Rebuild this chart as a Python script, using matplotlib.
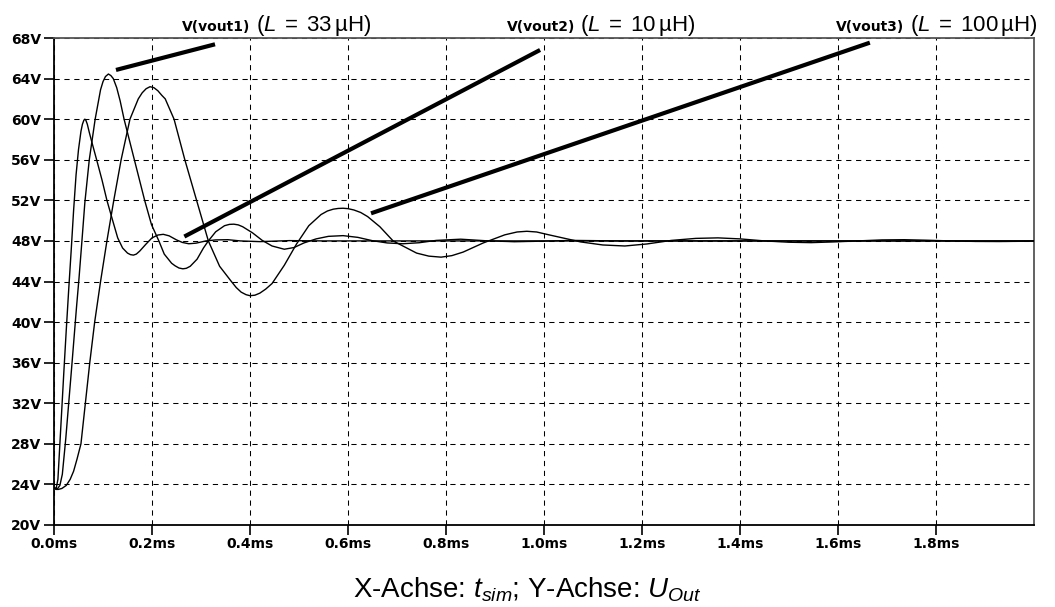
import numpy as np
import matplotlib
matplotlib.use('Agg')
import matplotlib.pyplot as plt

plt.rcParams['font.family'] = ['Liberation Sans', 'DejaVu Sans']
plt.rcParams['mathtext.fontset'] = 'custom'
plt.rcParams['mathtext.rm'] = 'Liberation Sans'
plt.rcParams['mathtext.it'] = 'Liberation Sans:italic'

# Simulated output voltage (t in ms, V in volts)
# vout2, L = 10 uH (fastest)
t_vout2 = [0.000, 0.004, 0.008, 0.012, 0.016, 0.020, 0.025, 0.030, 0.035, 0.040,
           0.045, 0.050, 0.055, 0.058, 0.061, 0.063, 0.065, 0.068, 0.072, 0.078,
           0.087, 0.098, 0.108, 0.118, 0.130, 0.140, 0.150, 0.156, 0.162, 0.168,
           0.175, 0.188, 0.200, 0.212, 0.223, 0.235, 0.250, 0.262, 0.275, 0.290,
           0.310, 0.330, 0.355, 0.380, 0.420, 0.480, 0.550, 2.000]
v_vout2 = [23.7, 23.5, 24.5, 28.0, 31.5, 35.0, 39.2, 43.2, 47.0, 51.0,
           54.5, 57.0, 58.8, 59.5, 59.9, 60.0, 59.9, 59.5, 58.7, 57.6,
           56.0, 54.0, 52.0, 50.3, 48.3, 47.3, 46.8, 46.65, 46.6, 46.7,
           47.0, 47.7, 48.3, 48.58, 48.65, 48.5, 48.1, 47.85, 47.72, 47.78,
           48.0, 48.1, 48.12, 48.0, 47.93, 48.03, 48.0, 48.0]

# vout1, L = 33 uH
t_vout1 = [0.000, 0.006, 0.012, 0.017, 0.020, 0.024, 0.030, 0.036, 0.041, 0.046,
           0.051, 0.057, 0.063, 0.072, 0.084, 0.095, 0.100, 0.105, 0.111, 0.116,
           0.121, 0.128, 0.135, 0.143, 0.164, 0.185, 0.199, 0.214, 0.225, 0.240,
           0.247, 0.255, 0.263, 0.270, 0.278, 0.292, 0.305, 0.315, 0.330, 0.348,
           0.358, 0.367, 0.376, 0.385, 0.405, 0.425, 0.445, 0.470, 0.490, 0.510,
           0.535, 0.560, 0.590, 0.620, 0.650, 0.680, 0.712, 0.745, 0.780, 0.830,
           0.880, 0.940, 1.000, 1.060, 1.150, 2.000]
v_vout1 = [23.7, 23.5, 23.9, 25.0, 26.5, 28.5, 32.0, 35.5, 38.5, 41.5,
           44.3, 48.0, 51.8, 56.0, 60.0, 62.9, 63.7, 64.2, 64.45, 64.3,
           64.0, 63.1, 61.8, 60.0, 56.0, 52.0, 49.6, 48.0, 46.7, 45.8,
           45.55, 45.33, 45.25, 45.3, 45.5, 46.2, 47.3, 48.0, 48.9, 49.5,
           49.63, 49.65, 49.58, 49.4, 48.8, 48.05, 47.5, 47.18, 47.35, 47.8,
           48.2, 48.45, 48.52, 48.35, 48.02, 47.8, 47.72, 47.82, 48.05, 48.17,
           48.02, 47.92, 47.98, 48.05, 48.0, 48.0]

# vout3, L = 100 uH (slowest)
t_vout3 = [0.000, 0.008, 0.016, 0.025, 0.033, 0.040, 0.047, 0.055, 0.064, 0.073,
           0.083, 0.095, 0.108, 0.122, 0.137, 0.155, 0.172, 0.180, 0.188, 0.196,
           0.204, 0.212, 0.220, 0.227, 0.245, 0.267, 0.291, 0.315, 0.338, 0.362,
           0.372, 0.382, 0.392, 0.400, 0.410, 0.420, 0.432, 0.445, 0.470, 0.495,
           0.520, 0.545, 0.558, 0.570, 0.580, 0.590, 0.600, 0.612, 0.626, 0.640,
           0.665, 0.692, 0.740, 0.765, 0.790, 0.812, 0.835, 0.876, 0.920, 0.945,
           0.965, 0.985, 1.010, 1.075, 1.120, 1.165, 1.210, 1.260, 1.310, 1.355,
           1.400, 1.450, 1.500, 1.545, 1.590, 1.640, 1.690, 1.735, 1.780, 1.830,
           1.880, 1.930, 2.000]
v_vout3 = [23.7, 23.5, 23.6, 23.9, 24.5, 25.3, 26.5, 28.0, 32.0, 36.0,
           40.0, 44.0, 48.0, 52.0, 56.0, 60.0, 62.0, 62.6, 63.0, 63.2,
           63.1, 62.8, 62.35, 62.0, 60.0, 56.0, 52.0, 48.0, 45.5, 44.0,
           43.4, 42.95, 42.7, 42.6, 42.65, 42.85, 43.25, 43.8, 45.6, 47.7,
           49.5, 50.6, 50.95, 51.13, 51.2, 51.22, 51.18, 51.05, 50.8, 50.4,
           49.4, 48.0, 46.8, 46.5, 46.4, 46.55, 46.9, 47.8, 48.6, 48.88,
           48.95, 48.88, 48.6, 47.9, 47.6, 47.5, 47.7, 48.05, 48.25, 48.3,
           48.2, 48.0, 47.87, 47.83, 47.9, 48.0, 48.1, 48.12, 48.07, 48.0,
           47.95, 47.94, 47.98]

# trace labels and the pointer lines that connect them to their curves
trace_names = ['V(vout1)', 'V(vout2)', 'V(vout3)']
inductance_uH = ['33', '10', '100']
label_at_ms = [0.400, 1.063, 1.735]
pointer_t = [(0.1265, 0.3286), (0.266, 0.992), (0.647, 1.665)]
pointer_v = [(64.85, 67.38), (48.43, 66.82), (50.72, 67.54)]

x_ticks = [0.0, 0.2, 0.4, 0.6, 0.8, 1.0, 1.2, 1.4, 1.6, 1.8]
y_ticks = [20, 24, 28, 32, 36, 40, 44, 48, 52, 56, 60, 64, 68]

fig = plt.figure(figsize=(10.55, 6.07), dpi=100)
ax = fig.add_axes([54 / 1055, 1 - 525 / 607, 980 / 1055, 487 / 607])

for t, v in [(t_vout3, v_vout3), (t_vout1, v_vout1), (t_vout2, v_vout2)]:
    ax.plot(t, v, color='black', lw=1.0, zorder=3)

for (ta, tb), (va, vb) in zip(pointer_t, pointer_v):
    ax.plot([ta, tb], [va, vb], color='black', lw=3.0,
            solid_capstyle='butt', zorder=4, clip_on=False)

ax.set_xlim(0, 2.0)
ax.set_ylim(20, 68)
ax.set_xticks(x_ticks)
ax.set_xticklabels([f'{t:.1f}ms' for t in x_ticks])
ax.set_yticks(y_ticks)
ax.set_yticklabels([f'{v}V' for v in y_ticks])
for lab in ax.get_xticklabels() + ax.get_yticklabels():
    lab.set_family('DejaVu Sans')
    lab.set_fontweight('bold')
    lab.set_fontsize(10)
ax.tick_params(direction='out', length=7, width=1.2, color='black', pad=2)

ax.grid(True, color='black', lw=0.75, linestyle=(0, (5, 4.5)), zorder=1)
ax.set_axisbelow(True)
for side in ['left', 'bottom']:
    ax.spines[side].set_linewidth(1.3)
    ax.spines[side].set_color('black')
for side in ['top', 'right']:
    ax.spines[side].set_linewidth(1.3)
    ax.spines[side].set_color('#555555')

for name, ind, tx in zip(trace_names, inductance_uH, label_at_ms):
    ax.annotate(name, xy=(tx, 1), xycoords=('data', 'axes fraction'),
                xytext=(0, 5), textcoords='offset points',
                ha='right', va='baseline', family='DejaVu Sans',
                fontweight='bold', fontsize=10)
    ax.annotate(f'($L\\;=\\;{ind}\\,$µH)', xy=(tx, 1), xycoords=('data', 'axes fraction'),
                xytext=(4, 5), textcoords='offset points',
                ha='left', va='baseline', fontsize=16)

fig.text(0.5, 1 - 598 / 607, r'X-Achse: $t_{sim}$; Y-Achse: $U_{Out}$',
         ha='center', va='baseline', fontsize=20)

fig.savefig('out.png', dpi=100)
